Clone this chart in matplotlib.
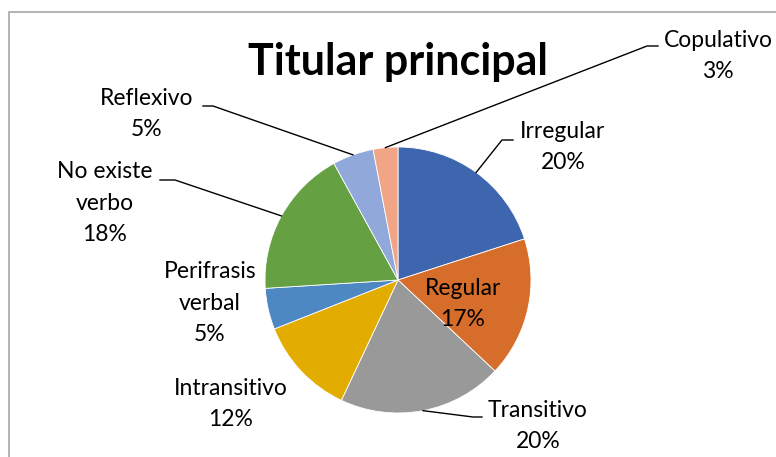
import numpy as np
import matplotlib.pyplot as plt
from matplotlib.patches import Rectangle

# slice data, clockwise from 12 o'clock
categories = ["Irregular", "Regular", "Transitivo", "Intransitivo",
              "Perifrasis\nverbal", "No existe\nverbo", "Reflexivo", "Copulativo"]
values = [20, 17, 20, 12, 5, 18, 5, 3]
colors = ["#3D66AE", "#D76D2A", "#999999", "#E3AC00",
          "#4E88C3", "#65A043", "#91A8DA", "#F1A587"]

W, H = 776, 457
CX, CY, R = 398, 280, 133   # pie centre / radius in pixels

# label layout in pixels: text centre, optional leader elbow (start, end)
label_pos = [(563, 147), (463, 304), (538, 426), (231, 404),
             (210, 303), (105, 203), (147, 114), (718, 56)]
leader = [((513, 140), (502, 140)), None, ((482, 417), (473, 417)), None,
          None, ((160, 180), (175, 180)), ((203, 106), (213, 106)),
          ((658, 46), (647, 46))]

FONT = "Lato"


def px(x, y):
    return (x - CX) / R, (CY - y) / R


fig = plt.figure(figsize=(W / 100, H / 100), dpi=100)
fig.patches.append(Rectangle((9 / W, -0.1), 1.2, 1 - 12 / H + 0.1,
                             transform=fig.transFigure, fill=False,
                             edgecolor="#A6A6A6", linewidth=1.2))

ax = fig.add_axes([(CX - R) / W, (H - CY - R) / H, 2 * R / W, 2 * R / H])
wedges, _ = ax.pie(values, colors=colors, startangle=90, counterclock=False,
                   radius=1, wedgeprops=dict(edgecolor="white", linewidth=0.6))
ax.set_xlim(-1, 1)
ax.set_ylim(-1, 1)
ax.set_aspect("equal")
ax.axis("off")

total = sum(values)
for i, (name, v) in enumerate(zip(categories, values)):
    txt = f"{name}\n{round(100 * v / total)}%"
    tx, ty = px(*label_pos[i])
    ax.text(tx, ty, txt, ha="center", va="center", fontsize=16.5,
            family=FONT, color="black", linespacing=1.62, clip_on=False)
    if leader[i] is not None:
        w = wedges[i]
        mid = np.deg2rad((w.theta1 + w.theta2) / 2)
        ax_, ay_ = np.cos(mid), np.sin(mid)
        (x1, y1), (x2, y2) = leader[i]
        p1, p2 = px(x1, y1), px(x2, y2)
        ax.plot([p1[0], p2[0], ax_], [p1[1], p2[1], ay_], color="black",
                linewidth=1.0, clip_on=False)

tx, ty = px(398, 62)
ax.text(tx, ty, "Titular principal", ha="center", va="center",
        fontsize=31, fontweight="bold", family=FONT, clip_on=False)

fig.savefig("out.png", dpi=100)
